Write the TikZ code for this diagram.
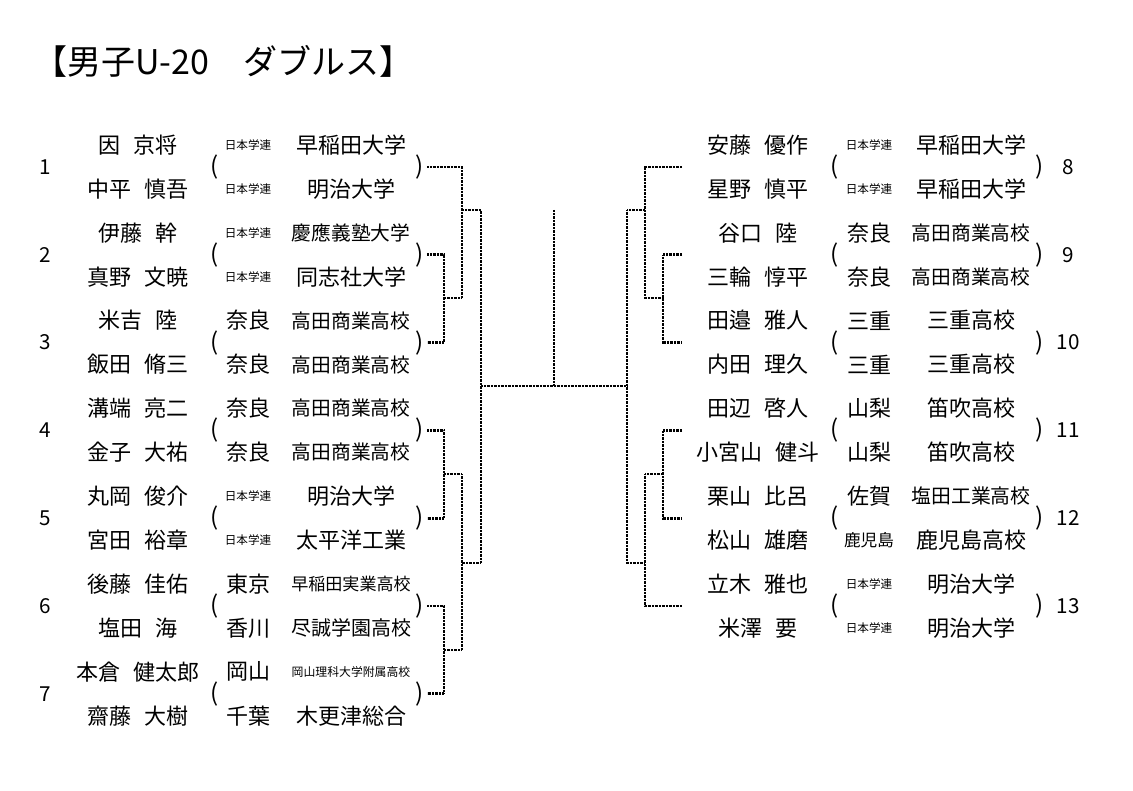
\documentclass[tikz,border=0pt]{standalone}
\usepackage{fontspec}
\setmainfont{Noto Sans CJK JP}
\usetikzlibrary{calc}
\newcommand{\gk}{{\fontsize{8.7}{10}\selectfont 日本学連}}
\newcommand{\fs}[2]{{\fontsize{#1}{#1}\selectfont #2}}
\newcommand{\kuu}{\hspace{0.6em}}
\tikzset{
  waku/.style={line width=2.1pt, dash pattern=on 0.6pt off 0.45pt},
  senshu/.style={font=\fontsize{16.5}{18}\selectfont, inner sep=0pt},
  kakko/.style={font=\fontsize{18}{20}\selectfont, inner sep=0pt},
  bango/.style={font=\fontsize{15.5}{18}\selectfont, inner sep=0pt},
}
\begin{document}
\begin{tikzpicture}[x=0.75pt,y=-0.75pt]
\useasboundingbox (0,0) rectangle (1133,791);
\node[anchor=west, inner sep=0pt, font=\fontsize{25.5}{28}\selectfont] (title) at (33,61) {【男子U-20　ダブルス】};
% left block
\foreach \i/\na/\pa/\sa/\nb/\pb/\sb in {
 1/因\kuu 京将/\gk/早稲田大学/中平\kuu 慎吾/\gk/明治大学,
 2/伊藤\kuu 幹/\gk/\fs{14.8}{慶應義塾大学}/真野\kuu 文暁/\gk/同志社大学,
 3/米吉\kuu 陸/奈良/\fs{14.8}{高田商業高校}/飯田\kuu 脩三/奈良/\fs{14.8}{高田商業高校},
 4/溝端\kuu 亮二/奈良/\fs{14.8}{高田商業高校}/金子\kuu 大祐/奈良/\fs{14.8}{高田商業高校},
 5/丸岡\kuu 俊介/\gk/明治大学/宮田\kuu 裕章/\gk/太平洋工業,
 6/後藤\kuu 佳佑/東京/\fs{12.8}{早稲田実業高校}/塩田\kuu 海/香川/\fs{15}{尽誠学園高校},
 7/本倉\kuu 健太郎/岡山/\fs{8.9}{岡山理科大学附属高校}/齋藤\kuu 大樹/千葉/木更津総合}{
 \pgfmathsetmacro{\ym}{167+87.8*(\i-1)}
 \node[bango] (n\i) at (45,\ym) {\i};
 \node[senshu] (a\i) at (138,\ym-22) {\na};
 \node[senshu] (b\i) at (138,\ym+22) {\nb};
 \node[senshu] (pa\i) at (248,\ym-22) {\pa};
 \node[senshu] (pb\i) at (248,\ym+22) {\pb};
 \node[senshu] (sa\i) at (351,\ym-22) {\sa};
 \node[senshu] (sb\i) at (351,\ym+22) {\sb};
 \node[kakko] (lp\i) at (215,\ym) {(};
 \node[kakko] (rp\i) at (420,\ym) {)};
 \coordinate (e\i) at (427,\ym);
}
% right block
\foreach \i/\na/\pa/\sa/\nb/\pb/\sb in {
 8/安藤\kuu 優作/\gk/早稲田大学/星野\kuu 慎平/\gk/早稲田大学,
 9/谷口\kuu 陸/奈良/\fs{14.8}{高田商業高校}/三輪\kuu 惇平/奈良/\fs{14.8}{高田商業高校},
 10/田邉\kuu 雅人/三重/三重高校/内田\kuu 理久/三重/三重高校,
 11/田辺\kuu 啓人/山梨/笛吹高校/小宮山\kuu 健斗/山梨/笛吹高校,
 12/栗山\kuu 比呂/佐賀/\fs{14.9}{塩田工業高校}/松山\kuu 雄磨/\fs{12.5}{鹿児島}/鹿児島高校,
 13/立木\kuu 雅也/\gk/明治大学/米澤\kuu 要/\gk/明治大学}{
 \pgfmathsetmacro{\ym}{167+87.8*(\i-8)}
 \node[bango] (n\i) at (1068,\ym) {\i};
 \node[senshu] (a\i) at (758,\ym-22) {\na};
 \node[senshu] (b\i) at (758,\ym+22) {\nb};
 \node[senshu] (pa\i) at (869,\ym-22) {\pa};
 \node[senshu] (pb\i) at (869,\ym+22) {\pb};
 \node[senshu] (sa\i) at (971,\ym-22) {\sa};
 \node[senshu] (sb\i) at (971,\ym+22) {\sb};
 \node[kakko] (lp\i) at (835,\ym) {(};
 \node[kakko] (rp\i) at (1040,\ym) {)};
 \coordinate (e\i) at (682,\ym);
}
% joints
\coordinate (L23) at (444,298);
\coordinate (L123) at (462,210);
\coordinate (L45) at (444,474);
\coordinate (L67) at (444,650);
\coordinate (L4567) at (462,563);
\coordinate (Lwin) at (481,386);
\coordinate (top) at (554,210);
\coordinate (Cmid) at (554,386);
\coordinate (Rwin) at (627,386);
\coordinate (R910) at (663,298);
\coordinate (R8910) at (645,210);
\coordinate (R1112) at (663,474);
\coordinate (R111213) at (645,563);
% left bracket
\draw[waku] (e2) -| (L23) |- (e3);
\draw[waku] (e1) -| (L23 -| L123) -- (L23);
\draw[waku] (L123) -- (L123 -| Lwin) -- (L4567 -| Lwin) -- (L4567);
\draw[waku] (e4) -| (L45) |- (e5);
\draw[waku] (e6) -| (L67) |- (e7);
\draw[waku] (L45) -- (L45 -| L4567) -- (L67 -| L4567) -- (L67);
% final
\draw[waku] (Lwin) -- (Rwin);
\draw[waku] (top) -- (Cmid);
% right bracket
\draw[waku] (e9) -| (R910) |- (e10);
\draw[waku] (e8) -| (R910 -| R8910) -- (R910);
\draw[waku] (R8910) -- (R8910 -| Rwin) -- (R111213 -| Rwin) -- (R111213);
\draw[waku] (e11) -| (R1112) |- (e12);
\draw[waku] (R1112) -- (R1112 -| R111213) |- (e13);
\end{tikzpicture}
\end{document}
